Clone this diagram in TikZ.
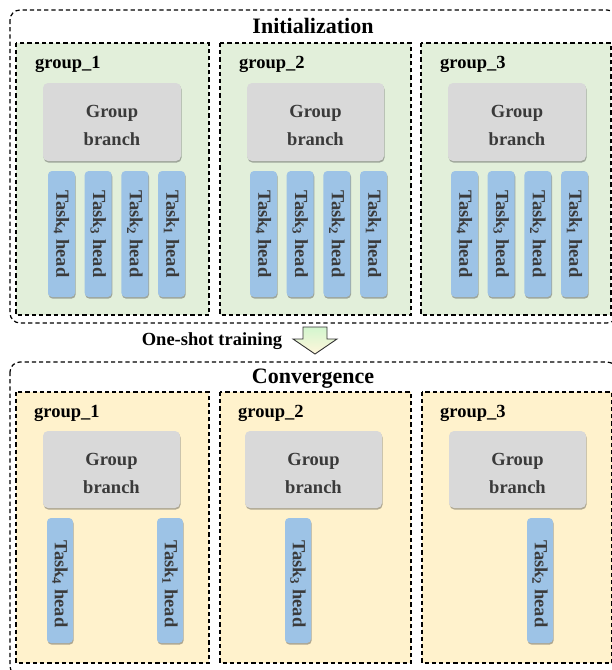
\documentclass[tikz,border=0pt]{standalone}
\usepackage{fontspec}
\setmainfont{Liberation Serif}
\usetikzlibrary{shadows}
\definecolor{initfill}{HTML}{E2EFDA}
\definecolor{convfill}{HTML}{FFF2CC}
\definecolor{branchfill}{HTML}{D9D9D9}
\definecolor{taskfill}{HTML}{9DC3E6}
\definecolor{darktext}{HTML}{3A3A3A}
\tikzset{
  outerbox/.style={draw, dashed, dash pattern=on 4.2pt off 3pt, line width=1.2pt, rounded corners=10pt},
  groupbox/.style={draw, dashed, dash pattern=on 4.2pt off 3pt, line width=1.2pt},
  boxshadow/.style={drop shadow={shadow xshift=0.6pt, shadow yshift=-1.6pt, fill=black!70, opacity=0.45}},
  branchbox/.style={fill=branchfill, rounded corners=5pt, boxshadow},
  taskbox/.style={fill=taskfill, rounded corners=4pt, boxshadow},
  branchtext/.style={text=darktext, font=\bfseries\fontsize{18.5}{28}\selectfont, align=center, inner sep=0pt},
  tasktext/.style={rotate=-90, text=darktext, font=\bfseries\fontsize{18.5}{20}\selectfont, inner sep=0pt},
  grouplabel/.style={anchor=west, font=\bfseries\fontsize{18.5}{20}\selectfont, inner sep=0pt},
  titlelabel/.style={font=\bfseries\fontsize{22}{24}\selectfont, inner sep=0pt},
}
\begin{document}
\begin{tikzpicture}[x=1pt,y=-1pt]
\useasboundingbox (0,0) rectangle (612,670);
\begin{scope}
\clip (0,0) rectangle (612,670);
% ---------- Initialization ----------
\draw[outerbox] (10,10) rectangle (617,323);
\node[titlelabel] (tinit) at (313,26) {Initialization};
\foreach \gi/\xa/\xb in {1/16/209, 2/220/411, 3/421/611}{
  \draw[groupbox, fill=initfill] (\xa,43) rectangle (\xb,315);
  \node[grouplabel] (ig\gi) at (\xa+19,64) {group\_\gi};
}
% branches
\foreach \gi/\xa/\xb in {1/43/181, 2/247/384, 3/448/586}{
  \path[branchbox] (\xa,83) rectangle (\xb,161);
  \node[branchtext] (ib\gi) at ({(\xa+\xb)/2},125) {Group\\branch};
}
% task heads
\foreach \gi/\xo in {1/48, 2/250, 3/451}{
  \foreach \k/\n in {0/4, 1/3, 2/2, 3/1}{
    \path[taskbox] ({\xo+36.7*\k},171) rectangle ({\xo+36.7*\k+27},297);
    \node[tasktext] (it\gi\n) at ({\xo+36.7*\k+13.5},234) {Task\textsubscript{\n} head};
  }
}
% ---------- arrow ----------
\shade[top color=initfill!85!green!70!white, bottom color=convfill!70!white, draw=black!80, line width=0.9pt]
  (303,327) -- (327,327) -- (327,339) -- (337,339) -- (315,354) -- (293,339) -- (303,339) -- cycle;
\node[font=\bfseries\fontsize{18.5}{20}\selectfont, inner sep=0pt] (train) at (212,341) {One-shot training};
% ---------- Convergence ----------
\draw[outerbox] (10,362) rectangle (617,676);
\node[titlelabel] (tconv) at (313,379) {Convergence};
\foreach \gi/\xa/\xb in {1/16/209, 2/220/411, 3/422/612}{
  \draw[groupbox, fill=convfill] (\xa,392) rectangle (\xb,663);
  \node[grouplabel] (cg\gi) at (\xa+18,413) {group\_\gi};
}
\foreach \gi/\xa/\xb in {1/43/180, 2/245/382, 3/449/586}{
  \path[branchbox] (\xa,431) rectangle (\xb,508);
  \node[branchtext] (cb\gi) at ({(\xa+\xb)/2},473) {Group\\branch};
}
\foreach \nm/\xo/\n in {a/47/4, b/157/1, c/285/3, d/527/2}{
  \path[taskbox] (\xo,518) rectangle (\xo+26,643);
  \node[tasktext] (ct\nm) at (\xo+13,584) {Task\textsubscript{\n} head};
}
\end{scope}
\end{tikzpicture}
\end{document}
